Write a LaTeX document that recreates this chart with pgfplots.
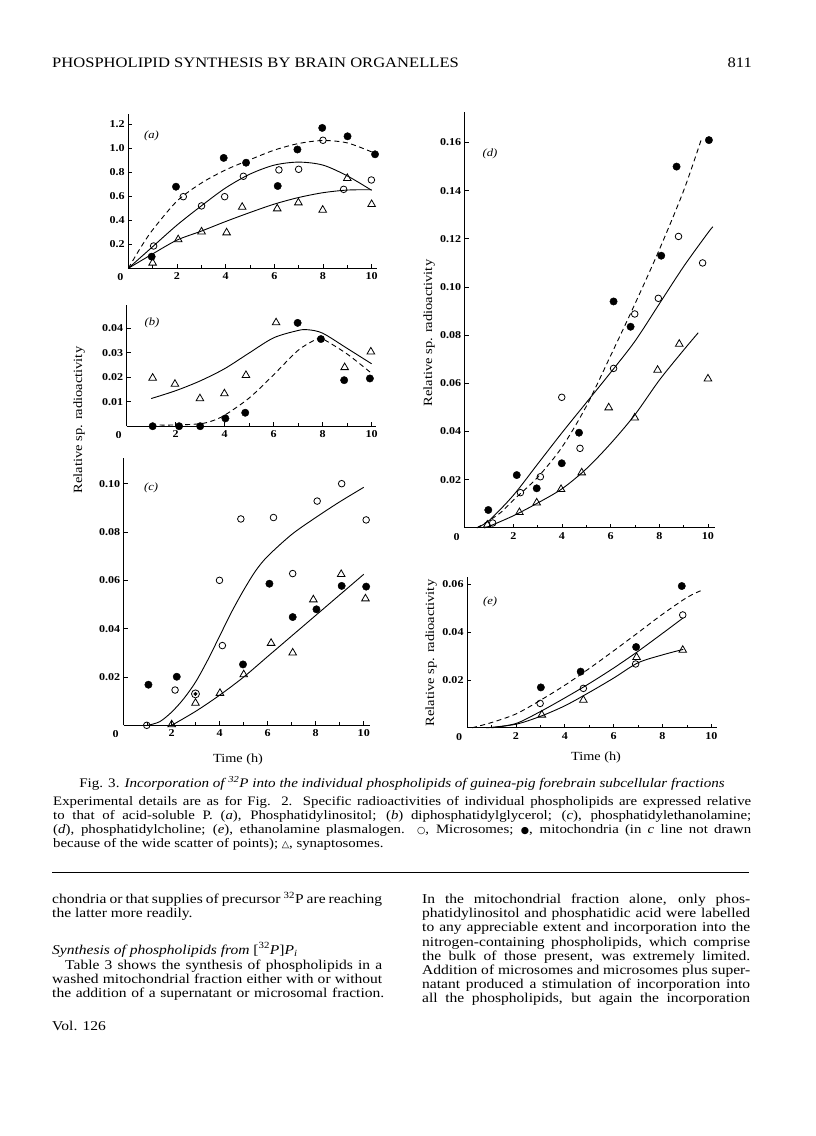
\documentclass[border=0pt]{standalone}
\usepackage{fontspec}
\setmainfont{Liberation Serif}[FakeStretch=1.15]
\newfontfamily\symf{DejaVu Sans}
\usepackage{pgfplots}
\pgfplotsset{compat=1.18}

\newcommand\bodyfont{\fontsize{13.5}{14.2}\selectfont}
\newcommand\capfont{\fontsize{12.9}{14.2}\selectfont}
\newcommand\jline[2]{\makebox[#1][s]{#2}}
\newcommand\osym{{\symf\fontsize{9.5}{9.5}\selectfont ○}}
\newcommand\fsym{{\symf\fontsize{9.5}{9.5}\selectfont ●}}
\newcommand\tsym{{\symf\fontsize{9.5}{9.5}\selectfont △}}

\pgfplotsset{
  panel/.style={
    scale only axis, anchor=south west,
    axis lines=left, axis line style={-, line width=0.8pt},
    xmin=0, ymin=0, clip=false,
    tick align=inside, major tick length=4pt, minor tick length=3pt,
    every tick/.style={black, line width=0.7pt},
    xtick={2,4,6,8,10}, minor xtick={1,3,5,7,9},
    ticklabel style={font=\bfseries\fontsize{10.5}{10.5}\selectfont},
    xticklabel style={yshift=-1pt},
    /pgf/number format/assume math mode=true,
    scaled ticks=false,
  },
  mito/.style={only marks, mark=*, mark size=3.7pt, black},
  micro/.style={only marks, mark=o, mark size=3.3pt, black, mark options={line width=0.8pt}},
  syn/.style={only marks, mark=triangle, mark size=4.4pt, black, mark options={line width=0.8pt}},
  fit/.style={no marks, smooth, black, line width=0.9pt},
  fitd/.style={fit, dash pattern=on 5pt off 3.5pt},
}
\tikzset{
  zero/.style={anchor=center, font=\bfseries\fontsize{10.5}{10.5}\selectfont, xshift=-8pt, yshift=-9pt},
  plab/.style={font=\itshape\fontsize{11}{11}\selectfont},
}

\begin{document}
\begin{tikzpicture}
\path[fill=white] (0,0) rectangle (816pt,-1136pt);

% page head
\node[anchor=base west, inner sep=0] at (52pt,-67pt) {\fontsize{14.4}{14.4}\selectfont PHOSPHOLIPID SYNTHESIS BY BRAIN ORGANELLES};
\node[anchor=base east, inner sep=0] at (752pt,-67pt) {\fontsize{14.4}{14.4}\selectfont 811};

% (a) phosphatidylinositol
\begin{axis}[panel, at={(128.3pt,-268.3pt)}, width=248.2pt, height=154.8pt,
  xmax=10.2, ymax=1.29,
  ytick={0.2,0.4,0.6,0.8,1.0,1.2}, yticklabels={0.2,0.4,0.6,0.8,1.0,1.2}]
\addplot[fitd] coordinates {(0,0)(0.5,0.17)(1,0.32)(2,0.56)(3,0.71)(4,0.82)(5,0.905)(6,0.985)(7,1.04)(8,1.065)(9,1.045)(10,0.97)};
\addplot[fit] coordinates {(0,0)(1,0.18)(2,0.36)(3,0.52)(4,0.67)(5,0.785)(6,0.86)(7,0.885)(8,0.86)(9,0.77)(10,0.65)};
\addplot[fit] coordinates {(0,0)(1,0.12)(2,0.235)(3,0.31)(4,0.39)(5,0.465)(6,0.535)(7,0.59)(8,0.63)(9,0.652)(10,0.655)};
\addplot[mito] coordinates {(0.96,0.097)(1.96,0.68)(3.92,0.92)(4.84,0.88)(6.14,0.686)(6.95,0.99)(7.97,1.17)(9.01,1.10)(10.14,0.95)};
\addplot[micro] coordinates {(1.04,0.186)(2.26,0.597)(3.01,0.52)(3.96,0.597)(4.73,0.767)(6.19,0.82)(7.0,0.825)(8.0,1.067)(8.85,0.658)(9.99,0.736)};
\addplot[syn] coordinates {(1.0,0.045)(2.05,0.24)(3.01,0.305)(4.04,0.297)(4.68,0.51)(6.12,0.497)(6.99,0.547)(7.99,0.486)(9.0,0.75)(10.0,0.533)};
\node[zero] at (rel axis cs:0,0) {0};
\node[plab] at (axis cs:0.95,1.10) {(a)};
\end{axis}

% (b) diphosphatidylglycerol
\begin{axis}[panel, at={(126.7pt,-426.2pt)}, width=249.3pt, height=121.2pt,
  xmax=10.18, ymax=0.0495,
  ytick={0.01,0.02,0.03,0.04}, yticklabels={0.01,0.02,0.03,0.04}]
\addplot[fit] coordinates {(1,0.0113)(2,0.0145)(3,0.0185)(4,0.0235)(5,0.0299)(6,0.0361)(7,0.0391)(7.4,0.0394)(8,0.038)(9,0.0318)(10,0.0255)};
\addplot[fitd] coordinates {(1,0.0005)(2,0.0005)(3,0.001)(3.5,0.0022)(4,0.0045)(5,0.0115)(6,0.021)(7,0.031)(7.8,0.0358)(8,0.0357)(9,0.0295)(10,0.0216)};
\addplot[syn] coordinates {(1.06,0.0197)(1.97,0.0172)(2.99,0.0113)(3.99,0.0133)(4.87,0.0208)(6.1,0.0423)(8.9,0.024)(9.97,0.0304)};
\addplot[mito] coordinates {(1.06,0)(2.14,0)(3.0,0)(4.03,0.0032)(4.84,0.0055)(6.98,0.0422)(7.93,0.0356)(8.88,0.0188)(9.93,0.0195)};
\node[zero] at (rel axis cs:0,0) {0};
\node[plab] at (axis cs:1.03,0.0421) {(b)};
\end{axis}

% (c) phosphatidylethanolamine
\begin{axis}[panel, at={(123.7pt,-725.3pt)}, width=246.3pt, height=267pt,
  xmax=10.26, ymax=0.1105,
  ytick={0.02,0.04,0.06,0.08,0.10}, yticklabels={0.02,0.04,0.06,0.08,0.10}]
\addplot[fit] coordinates {(1,0)(1.5,0.0015)(2,0.0055)(2.5,0.011)(3,0.018)(3.5,0.027)(4,0.037)(4.5,0.047)(5,0.056)(5.5,0.064)(6,0.070)(7,0.079)(8,0.086)(9,0.0925)(10,0.0985)};
\addplot[fit] coordinates {(2,0)(3,0.0058)(4,0.0125)(5,0.020)(6,0.0285)(7,0.037)(8,0.0455)(9,0.054)(10,0.0625)};
\addplot[micro] coordinates {(0.96,0)(2.14,0.0146)(3.99,0.060)(4.11,0.033)(4.88,0.0854)(6.24,0.086)(7.04,0.0628)(8.06,0.0928)(9.08,0.100)(10.1,0.085)};
\addplot[micro, mark size=4pt] coordinates {(2.99,0.013)};
\addplot[mito] coordinates {(1.03,0.0168)(2.21,0.0201)(4.97,0.0252)(6.07,0.0586)(7.04,0.0448)(8.03,0.048)(9.08,0.0577)(10.1,0.0574)};
\addplot[mito, mark size=1.8pt] coordinates {(2.99,0.013)};
\addplot[syn] coordinates {(2.0,0.0003)(2.99,0.0092)(4.01,0.0133)(5.0,0.021)(6.14,0.034)(7.04,0.030)(7.9,0.052)(9.06,0.0625)(10.07,0.0524)};
\node[zero] at (rel axis cs:0,0) {0};
\node[plab] at (axis cs:1.14,0.0982) {(c)};
\end{axis}

% (d) phosphatidylcholine
\begin{axis}[panel, at={(464.7pt,-527.8pt)}, width=250.3pt, height=416.1pt,
  xmax=10.29, ymax=0.1728,
  ytick={0.02,0.04,0.06,0.08,0.10,0.12,0.14,0.16}, yticklabels={0.02,0.04,0.06,0.08,0.10,0.12,0.14,0.16}]
\addplot[fitd] coordinates {(0.5,0)(1,0.003)(1.5,0.0065)(2,0.0115)(3,0.021)(4,0.0335)(5,0.0505)(6,0.0715)(7,0.093)(8,0.1155)(9,0.14)(9.74,0.1617)};
\addplot[fit] coordinates {(0.5,0)(1,0.003)(2,0.0135)(3,0.0265)(4,0.0395)(5,0.052)(6,0.0645)(7,0.0775)(8,0.093)(9,0.1085)(10,0.1225)(10.2,0.125)};
\addplot[fit] coordinates {(0.8,0)(1,0.0006)(2,0.005)(3,0.0103)(4,0.0162)(5,0.0245)(6,0.035)(7,0.047)(8,0.0613)(9,0.0738)(9.6,0.081)};
\addplot[mito] coordinates {(0.97,0.0074)(2.14,0.0219)(2.96,0.0164)(3.99,0.0268)(4.7,0.0395)(6.12,0.094)(6.82,0.0835)(8.08,0.113)(8.71,0.150)(10.04,0.161)};
\addplot[micro] coordinates {(1.15,0.002)(2.29,0.0146)(3.11,0.0212)(3.99,0.0542)(4.74,0.033)(6.12,0.0662)(6.99,0.0888)(7.96,0.0953)(8.79,0.121)(9.78,0.110)};
\addplot[syn] coordinates {(0.93,0.0012)(2.25,0.0064)(2.96,0.0104)(3.96,0.016)(4.81,0.0229)(5.92,0.0499)(6.99,0.0457)(7.93,0.0655)(8.82,0.0763)(10.0,0.0619)};
\node[zero] at (rel axis cs:0,0) {0};
\node[plab] at (axis cs:1.04,0.1552) {(d)};
\end{axis}

% (e) ethanolamine plasmalogen
\begin{axis}[panel, at={(467.1pt,-727.8pt)}, width=249.6pt, height=151.1pt,
  xmax=10.22, ymax=0.0632,
  ytick={0.02,0.04,0.06}, yticklabels={0.02,0.04,0.06}]
\addplot[fitd] coordinates {(0.2,0)(1,0.0022)(2,0.0058)(3,0.0115)(4,0.0178)(5,0.0248)(6,0.0322)(7,0.0398)(8,0.0475)(9,0.0545)(9.6,0.0575)};
\addplot[fit] coordinates {(1,0)(2,0.0018)(3,0.0068)(4,0.0125)(5,0.0185)(6,0.025)(7,0.032)(8,0.0395)(8.85,0.046)};
\addplot[fit] coordinates {(0.8,0)(2,0.0015)(3,0.0048)(4,0.0092)(5,0.0148)(6,0.0208)(7,0.0272)(8,0.0305)(8.85,0.0328)};
\addplot[mito] coordinates {(3.02,0.0169)(4.65,0.0235)(6.92,0.0338)(8.79,0.0593)};
\addplot[micro] coordinates {(2.99,0.0102)(4.76,0.0165)(6.9,0.0267)(8.83,0.0472)};
\addplot[syn] coordinates {(3.06,0.0054)(4.76,0.0116)(6.94,0.0295)(8.83,0.0325)};
\node[zero] at (rel axis cs:0,0) {0};
\node[plab] at (axis cs:0.94,0.0526) {(e)};
\end{axis}

% axis titles
\node[rotate=90, font=\fontsize{12.6}{12.6}\selectfont] at (79pt,-420pt) {Relative sp. radioactivity};
\node[rotate=90, font=\fontsize{12.6}{12.6}\selectfont] at (429pt,-333pt) {Relative sp. radioactivity};
\node[rotate=90, font=\fontsize{12.6}{12.6}\selectfont] at (431pt,-653pt) {Relative sp. radioactivity};
\node[font=\fontsize{12.4}{12.4}\selectfont] at (238pt,-760pt) {Time (h)};
\node[font=\fontsize{12.4}{12.4}\selectfont] at (596pt,-758pt) {Time (h)};

% figure caption
\node[anchor=base, inner sep=0] at (402pt,-787pt) {\fontsize{13.1}{14}\selectfont Fig. 3. \textit{Incorporation of \textsuperscript{32}P into the individual phospholipids of guinea-pig forebrain subcellular fractions}};
\node[anchor=base west, inner sep=0] at (53pt,-805pt) {\capfont\jline{698pt}{Experimental details are as for Fig. 2. Specific radioactivities of individual phospholipids are expressed relative}};
\node[anchor=base west, inner sep=0] at (53pt,-819pt) {\capfont\jline{698pt}{to that of acid-soluble P. (\textit{a}), Phosphatidylinositol; (\textit{b}) diphosphatidylglycerol; (\textit{c}), phosphatidylethanolamine;}};
\node[anchor=base west, inner sep=0] at (53pt,-833pt) {\capfont\jline{698pt}{(\textit{d}), phosphatidylcholine; (\textit{e}), ethanolamine plasmalogen. \osym, Microsomes; \fsym, mitochondria (in \textit{c} line not drawn}};
\node[anchor=base west, inner sep=0] at (53pt,-847pt) {\capfont because of the wide scatter of points); \tsym, synaptosomes.};

\draw[line width=0.8pt] (52pt,-872pt) -- (749pt,-872pt);

% left column
\node[anchor=base west, inner sep=0] at (52pt,-903.5pt) {\bodyfont\jline{330pt}{chondria or that supplies of precursor \textsuperscript{32}P are reaching}};
\node[anchor=base west, inner sep=0] at (52pt,-917.7pt) {\bodyfont the latter more readily.};
\node[anchor=base west, inner sep=0] at (52pt,-954pt) {\bodyfont\textit{Synthesis of phospholipids from} [\textsuperscript{32}\textit{P}]\textit{P}\textsubscript{\textit{i}}};
\node[anchor=base west, inner sep=0] at (65pt,-969.7pt) {\bodyfont\jline{317pt}{Table 3 shows the synthesis of phospholipids in a}};
\node[anchor=base west, inner sep=0] at (52pt,-983.5pt) {\bodyfont\jline{330pt}{washed mitochondrial fraction either with or without}};
\node[anchor=base west, inner sep=0] at (52pt,-997.9pt) {\bodyfont\jline{332pt}{the addition of a supernatant or microsomal fraction.}};
\node[anchor=base west, inner sep=0] at (52pt,-1030pt) {\bodyfont Vol. 126};

% right column
\node[anchor=base west, inner sep=0] at (422pt,-903.5pt) {\bodyfont\jline{328pt}{In the mitochondrial fraction alone, only phos-}};
\node[anchor=base west, inner sep=0] at (422pt,-917.7pt) {\bodyfont\jline{328pt}{phatidylinositol and phosphatidic acid were labelled}};
\node[anchor=base west, inner sep=0] at (422pt,-931.9pt) {\bodyfont\jline{328pt}{to any appreciable extent and incorporation into the}};
\node[anchor=base west, inner sep=0] at (422pt,-946.1pt) {\bodyfont\jline{328pt}{nitrogen-containing phospholipids, which comprise}};
\node[anchor=base west, inner sep=0] at (422pt,-960.3pt) {\bodyfont\jline{328pt}{the bulk of those present, was extremely limited.}};
\node[anchor=base west, inner sep=0] at (422pt,-974.5pt) {\bodyfont\jline{328pt}{Addition of microsomes and microsomes plus super-}};
\node[anchor=base west, inner sep=0] at (422pt,-988.7pt) {\bodyfont\jline{328pt}{natant produced a stimulation of incorporation into}};
\node[anchor=base west, inner sep=0] at (422pt,-1002.9pt) {\bodyfont\jline{328pt}{all the phospholipids, but again the incorporation}};
\end{tikzpicture}
\end{document}
